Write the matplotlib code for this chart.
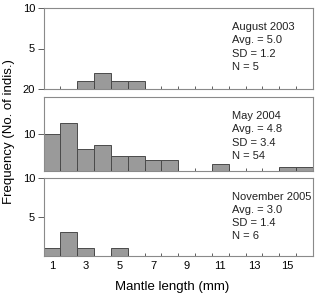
import numpy as np
import matplotlib.pyplot as plt

plt.rcParams["font.family"] = ["Liberation Sans", "DejaVu Sans"]

bins = np.arange(1, 17)
aug2003 = [0, 0, 1, 2, 1, 1, 0, 0, 0, 0, 0, 0, 0, 0, 0, 0]
may2004 = [10, 13, 6, 7, 4, 4, 3, 3, 0, 0, 2, 0, 0, 0, 1, 1]
nov2005 = [1, 3, 1, 0, 1, 0, 0, 0, 0, 0, 0, 0, 0, 0, 0, 0]

panels = [
    (aug2003, 10, [0, 5, 10], ["20", "5", "10"], ["August 2003", "Avg. = 5.0", "SD = 1.2", "N = 5"]),
    (may2004, 20, [10], ["10"], ["May 2004", "Avg. = 4.8", "SD = 3.4", "N = 54"]),
    (nov2005, 10, [5, 10], ["5", "10"], ["November 2005", "Avg. = 3.0", "SD = 1.4", "N = 6"]),
]
xlabels = [1, 3, 5, 7, 9, 11, 13, 15]

fig = plt.figure(figsize=(3.16, 2.93), dpi=100)
W, H = 316, 293
boxes = [(8, 89), (97, 171), (177.5, 256)]
spine_col = "#8a8a8a"

for (counts, ymax, yt, ytl, lines), (top, bot) in zip(panels, boxes):
    ax = fig.add_axes([43.5 / W, 1 - bot / H, (313 - 43.5) / W, (bot - top) / H])
    ax.bar(bins, counts, width=1.0, color="#9a9a9a", edgecolor="#4a4a4a", linewidth=0.7)
    ax.set_xlim(0.5, 16.5)
    ax.set_ylim(0, ymax)
    ax.set_yticks(yt)
    ax.set_yticklabels(ytl, fontsize=8)
    ax.set_xticks(np.arange(1.5, 16.5, 1))
    ax.set_xticklabels([])
    ax.tick_params(axis="x", direction="in", length=2.5, color="#444444", width=0.6)
    ax.tick_params(axis="y", direction="out", length=4, color="#444444", width=0.6, pad=2)
    for s in ax.spines.values():
        s.set_color(spine_col)
        s.set_linewidth(0.8)
    for i, line in enumerate(lines):
        ax.text(232 / W, 1 - (top + 19 + 13.3 * i) / H, line, transform=fig.transFigure,
                fontsize=8, va="center", ha="left", color="#222222")
    last = ax

for v in xlabels:
    last.text(v, -1.3, str(v), ha="center", va="center", fontsize=8)

fig.text(172 / W, 1 - 287 / H, "Mantle length (mm)", ha="center", va="center", fontsize=9.5)
fig.text(9 / W, 1 - 132 / H, "Frequency (No. of indis.)", ha="center", va="center",
         rotation=90, fontsize=9.5)

fig.savefig("out.png", dpi=100)
